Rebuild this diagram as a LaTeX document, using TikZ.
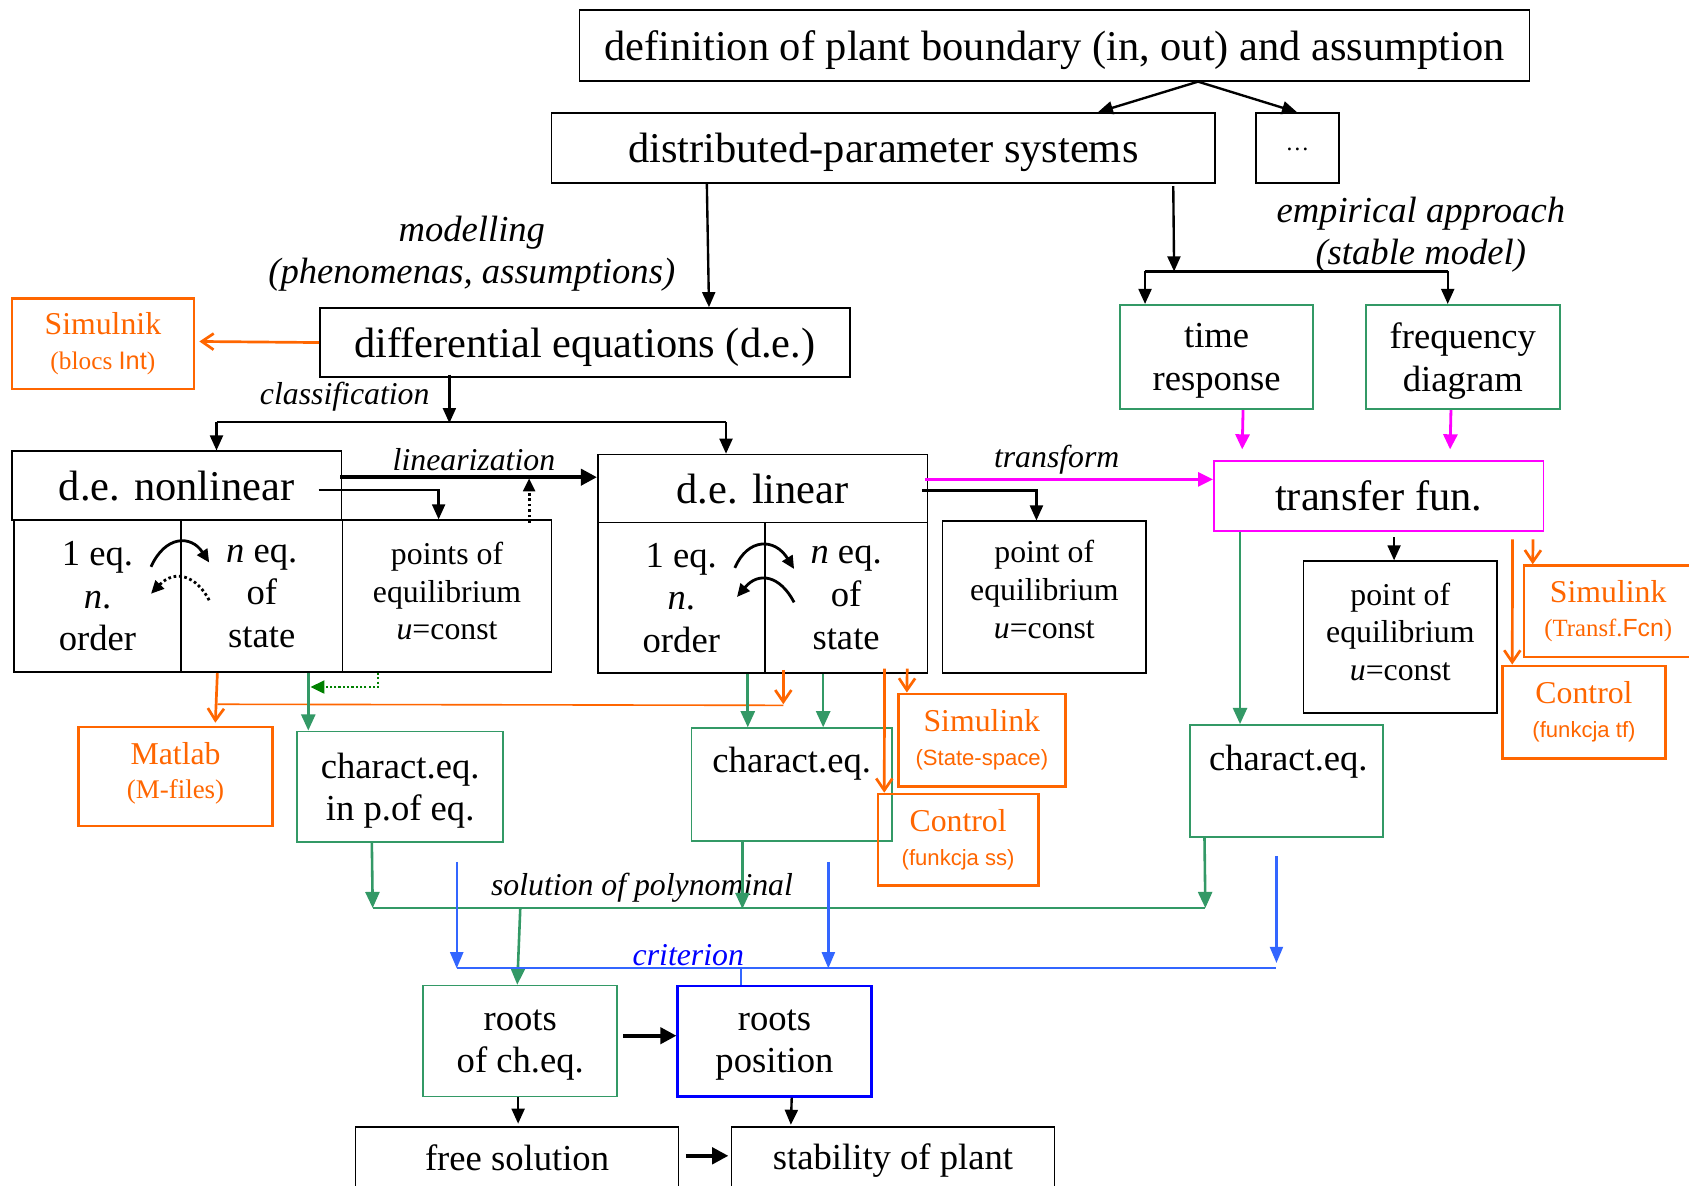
\documentclass[tikz,border=0pt]{standalone}
\usepackage{fontspec}
\setmainfont{Liberation Serif}
\newfontfamily\arialf{Liberation Sans}
\usetikzlibrary{arrows.meta,calc}
\definecolor{org}{RGB}{255,102,0}
\definecolor{grn}{RGB}{51,153,102}
\definecolor{dgrn}{RGB}{0,128,0}
\definecolor{mag}{RGB}{255,0,255}
\definecolor{blu}{RGB}{51,102,255}
\definecolor{bbx}{RGB}{0,0,255}
\newcommand\fA{\fontsize{39.4}{45}\selectfont}
\newcommand\fB{\fontsize{34}{39.5}\selectfont}
\newcommand\fC{\fontsize{29.5}{35}\selectfont}
\newcommand\fO{\fontsize{29.5}{32}\selectfont}
\newcommand\fD{\arialf\fontsize{20.5}{32}\selectfont}
\newcommand\fM{\fontsize{25}{32}\selectfont}
\newcommand\fMs{\fontsize{23.5}{32}\selectfont}
\tikzset{
 bx/.style={draw, line width=1.6pt, inner sep=0pt, align=center},
 bigbx/.style={bx, font=\fA, text depth=0pt},
 gbx/.style={bx, draw=grn},
 obx/.style={bx, draw=org, line width=2.2pt, text=org, font=\fO},
 lab/.style={inner sep=0pt, align=center, font=\fB\itshape},
 arr/.style={line width=2.2pt, -{Triangle[length=14pt,width=12pt]}},
 tarr/.style={line width=3.6pt, -{Triangle[length=15pt,width=15pt]}},
 carr/.style={line width=2.6pt, -{Triangle[length=12pt,width=11pt]}},
 darr/.style={carr, dash pattern=on 2.5pt off 2.5pt},
 garr/.style={color=grn, line width=2.4pt, -{Triangle[length=15pt,width=13pt]}},
 gline/.style={draw=grn, line width=2pt},
 gdarr/.style={color=dgrn, line width=2.2pt, dash pattern=on 2pt off 2pt, -{Triangle[length=13pt,width=12pt]}},
 oarr/.style={color=org, line width=2.5pt, -{Straight Barb[length=11pt,width=15pt]}},
 oline/.style={draw=org, line width=1.5pt},
 marr/.style={color=mag, line width=2.6pt, -{Triangle[length=14pt,width=13pt]}},
 barr/.style={color=blu, line width=2.2pt, -{Triangle[length=15pt,width=12pt]}},
 bline/.style={draw=blu, line width=1.8pt},
}
\begin{document}
\begin{tikzpicture}[x=1pt,y=-1pt]
\fill[white] (0,0) rectangle (1568,1101);
\useasboundingbox (0,0) rectangle (1568,1101);

% ---------- nodes ----------
\node[bigbx, minimum width=882pt, minimum height=66pt] (top) at (979,42) {definition of plant boundary (in, out) and assumption};
\node[bigbx, minimum width=616pt, minimum height=65pt] (dps) at (820,137.5) {distributed-parameter systems};
\node[bx, minimum width=77pt, minimum height=65pt, font=\fontsize{22}{26}\selectfont, text depth=0pt, text height=4pt] (dots) at (1204.5,137.5) {\ldots};
\node[bigbx, minimum width=492pt, minimum height=64pt] (diffeq) at (543,318) {differential equations (d.e.)};
\node[obx, minimum width=169pt, minimum height=84pt] (simA) at (95.5,319) {Simulnik\\{\fMs (blocs {\arialf Int})}};
\node[gbx, minimum width=179pt, minimum height=97pt, font=\fB, text depth=0pt] (tr) at (1129.5,331.5) {time\\response};
\node[gbx, minimum width=180pt, minimum height=97pt, font=\fB, text depth=0pt] (fr) at (1358,331.5) {frequency\\diagram};

\node[lab] (lmod) at (438,235.5) {modelling\\(phenomenas, assumptions)};
\node[lab] (lemp) at (1319,218) {empirical approach\\(stable model)};
\node[lab, font=\fC\itshape] (lcls) at (320,368) {classification};

\node[bigbx, minimum width=306pt, minimum height=64pt] (nlh) at (164,451) {d.e. nonlinear};
\node[bx, minimum width=155pt, minimum height=141pt, font=\fB] (nl1) at (90.5,553.5) {1 eq.\\\textit{n}.\\order};
\node[bx, minimum width=150pt, minimum height=141pt, font=\fB] (nl2) at (243,553.5) {\textit{n} eq.\\of\\state};
\node[bx, minimum width=194pt, minimum height=141pt, font=\fC, text depth=10pt] (peq1) at (415,553.5) {points of\\equilibrium\\\textit{u}=const};

\node[bigbx, minimum width=306pt, minimum height=63pt] (lh) at (708,453.5) {d.e. linear};
\node[bx, minimum width=155pt, minimum height=140pt, font=\fB] (l1) at (632.5,555) {1 eq.\\\textit{n}.\\order};
\node[bx, minimum width=151pt, minimum height=140pt, font=\fB] (l2) at (785.5,555) {\textit{n} eq.\\of\\state};
\node[bx, minimum width=189pt, minimum height=141pt, font=\fC, text depth=15pt] (peq2) at (969.5,554.5) {point of\\equilibrium\\\textit{u}=const};

\node[bigbx, draw=mag, minimum width=306pt, minimum height=65pt] (tf) at (1280,460.5) {transfer fun.};
\node[bx, minimum width=180pt, minimum height=141pt, font=\fC, text depth=10pt] (peq3) at (1300,591.5) {point of\\equilibrium\\\textit{u}=const};
\node[gbx, minimum width=179pt, minimum height=104pt] (ce3) at (1194.5,725) {};
\node[inner sep=0pt, font=\fB] (ce3t) at (1196,707) {charact.eq.};
\node[obx, minimum width=156pt, minimum height=85pt] (simTF) at (1493,567.5) {Simulink\\{\fontsize{23}{32}\selectfont (Transf.{\arialf Fcn})}};
\node[obx, minimum width=151pt, minimum height=86pt] (ctf) at (1470.5,661) {Control\\{\fD (funkcja tf)}};

\node[obx, minimum width=180pt, minimum height=92pt, text depth=11pt] (matlab) at (163,721) {Matlab\\{\fM (M-files)}};
\node[gbx, minimum width=191pt, minimum height=103pt, font=\fB, text depth=0pt] (ce1) at (371.5,730.5) {charact.eq.\\in p.of eq.};
\node[gbx, minimum width=186pt, minimum height=105pt] (ce2) at (735,728.5) {};
\node[inner sep=0pt, font=\fB] (ce2t) at (735,709) {charact.eq.};
\node[obx, minimum width=155pt, minimum height=86pt] (simSS) at (911.5,687) {Simulink\\{\fD (State-space)}};
\node[obx, minimum width=149pt, minimum height=85pt] (css) at (889.5,779.5) {Control\\{\fD (funkcja ss)}};

\node[gbx, minimum width=180pt, minimum height=103pt, font=\fB, text depth=0pt] (roots1) at (483,966.5) {roots\\of ch.eq.};
\node[bx, draw=bbx, line width=2pt, minimum width=180pt, minimum height=103pt, font=\fB, text depth=0pt] (roots2) at (719,966.5) {roots\\position};
\node[bx, minimum width=300pt, minimum height=64pt, font=\fB, text depth=6pt] (free) at (480,1078) {free solution};
\node[bx, minimum width=300pt, minimum height=64pt, font=\fB, text depth=9pt] (stab) at (829,1078) {stability of plant};

\node[lab, font=\fC\itshape] (llin) at (440,427) {linearization};
\node[lab, font=\fC\itshape] (ltr) at (981,427) {transform};
\node[lab, font=\fC\itshape] (lsol) at (596,824) {solution of polynominal};
\node[lab, font=\fC\itshape, text=bbx] (lcrit) at (639,887) {criterion};

% ---------- connectors ----------
\coordinate (o1) at ($(top.south west)+(575,0)$);
\draw[arr] (o1) -- ($(dps.north west)+(508,0)$);
\draw[arr] (o1) -- ($(dots.north west)+(39,0)$);
\draw[arr] ($(dps.south west)+(145,0)$) -- ($(diffeq.north west)+(362,0)$);

\coordinate (e1) at (1063,252);
\coordinate (e2) at (1344,252);
\draw[arr] ($(dps.south west)+(578,2)$) -- (1090,252);
\draw[line width=2.2pt] (e1) -- (e2);
\draw[arr] (e1) -- (e1 |- tr.north);
\draw[arr] (e2) -- (e2 |- fr.north);

\draw[oarr] (diffeq.west) -- ($(simA.east)+(4,-2)$);

\coordinate (c1) at (201,392);
\coordinate (c2) at (674,392);
\draw[arr] ($(diffeq.south west)+(121,-3)$) -- ($(diffeq.south west)+(121,42)$);
\draw[line width=2pt] (c1) -- (c2);
\draw[arr] (c1) -- (c1 |- nlh.north);
\draw[arr] (c2) -- (c2 |- lh.north);

\draw[arr] ($(nlh.east)+(-22,4)$) -| ($(peq1.north west)+(90,0)$);
\draw[tarr] ($(nlh.east)+(-2,-8)$) -- ($(lh.west)+(0,-10.5)$);
\draw[darr] ($(peq1.north west)+(174,3)$) -- ($(peq1.north west)+(174,-38)$);

\begin{scope}[shift={(nl2.north west)}]
\draw[carr] (-27,44) .. controls (-14,15) and (10,14) .. (27,40);
\draw[darr] (27,75) .. controls (15,52) and (-5,46) .. (-27,69);
\end{scope}
\begin{scope}[shift={(l2.north west)}]
\draw[carr] (-27,43) .. controls (-15,15) and (10,15) .. (28,44);
\draw[carr] (28,75) .. controls (15,50) and (-5,46) .. (-25,70);
\end{scope}

\draw[arr] ($(lh.east)+(-6,2)$) -| ($(peq2.north west)+(88,0)$);
\draw[marr] ($(lh.east)+(-3,-8.5)$) -- ($(tf.west)+(0,-15.5)$);
\draw[marr] ($(tr.south)+(24.5,0)$) -- ($(tf.north west)+(27,-10)$);
\draw[marr] ($(fr.south)+(-11,0)$) -- ($(tf.north west)+(220,-10)$);

\draw[arr] ($(tf.south west)+(168,5)$) -- ($(peq3.north west)+(85,0)$);
\draw[garr] ($(tf.south west)+(25,0)$) -- ($(ce3.north west)+(47,0)$);
\draw[oarr] ($(tf.south west)+(278,7)$) -- ($(ctf.north west)+(10,0)$);
\draw[oarr] ($(tf.south west)+(297,7)$) -- ($(simTF.north west)+(9,0)$);

\draw[oarr] ($(nl1.south east)+(33,0)$) -- ($(matlab.north west)+(128,-3)$);
\draw[oline] ($(nl1.south east)+(33,29)$) -- ($(l1.south west)+(173,29)$);
\draw[oarr] ($(l1.south west)+(173,-4)$) -- ($(l1.south west)+(173,28)$);

\draw[garr] ($(nl2.south west)+(119,0)$) -- ($(ce1.north west)+(11,0)$);
\draw[gdarr] ($(peq1.south west)+(34,0)$) |- ($(nl2.south west)+(121,13)$);

\draw[garr] ($(l1.south west)+(140,0)$) -- ($(ce2.north west)+(53,0)$);
\draw[garr] ($(l2.south west)+(55,0)$) -- ($(ce2.north west)+(123,0)$);
\draw[oarr] ($(l2.south west)+(112,-5)$) -- ($(css.north west)+(7,0)$);
\draw[oarr] ($(l2.south west)+(133,-5)$) -- ($(simSS.north west)+(9,0)$);

\coordinate (s1) at (346,843);
\coordinate (s2) at (1119,843);
\draw[gline] (s1) -- (s2);
\draw[garr] ($(ce1.south west)+(70,0)$) -- (s1);
\draw[garr] ($(ce2.south west)+(48,0)$) -- ($(ce2.south west)+(48,62)$);
\draw[garr] ($(ce3.south west)+(14,0)$) -- (s2);
\draw[garr] ($(s1)+(137,0)$) -- ($(roots1.north west)+(88,0)$);

\coordinate (b1) at (424,899);
\coordinate (b2) at (1185,899);
\coordinate (bs1) at (424,800);
\coordinate (bs2) at (769,800);
\coordinate (bs3) at (1185,795);
\draw[bline] (b1) -- (b2);
\draw[barr] (bs1) -- (b1);
\draw[barr] (bs2) -- (bs2 |- b1);
\draw[barr] (bs3) -- ($(b2)+(0,-5)$);
\draw[bline] ($(roots2.north west)+(60,0)$) -- ($(roots2.north west)+(60,-16)$);

\draw[tarr] ($(roots1.east)+(5,-5)$) -- ($(roots2.west)+(0,-5)$);
\draw[arr] ($(roots1.south)+(-2,0)$) -- ($(free.north)+(1,-2)$);
\draw[arr] ($(roots2.south)+(16,0)$) -- ($(stab.north west)+(56,-1)$);
\draw[tarr] ($(free.east)+(6,-5)$) -- ($(stab.west)+(-2,-5)$);
\end{tikzpicture}
\end{document}
